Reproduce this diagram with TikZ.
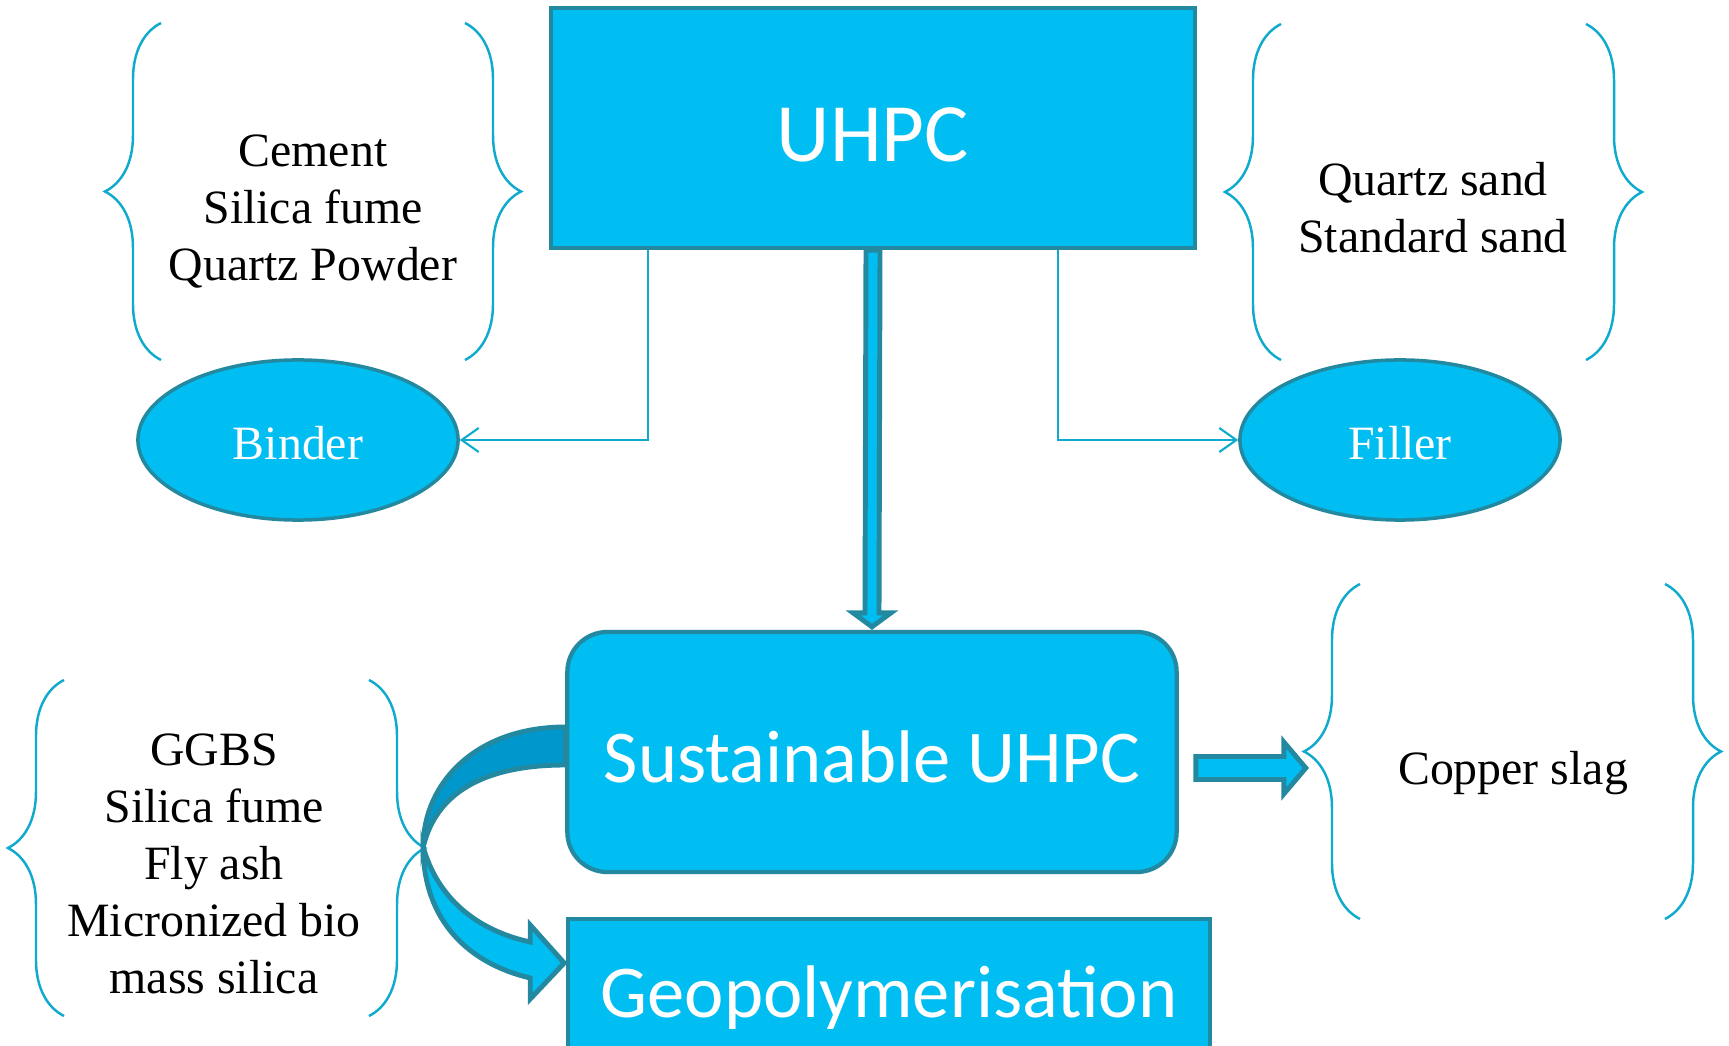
\documentclass[tikz,border=0pt]{standalone}
\usepackage{fontspec}
\setmainfont{Liberation Serif}
\newfontfamily\calibri{Carlito}
\usetikzlibrary{shapes.geometric,arrows.meta,decorations.pathreplacing}

\definecolor{boxfill}{RGB}{0,190,242}
\definecolor{boxline}{RGB}{35,137,160}
\definecolor{thinline}{RGB}{16,170,205}
\definecolor{backband}{RGB}{0,152,204}

% text a little below the middle of its box
\newcommand{\shiftdown}[2]{\vphantom{#2}\raisebox{-#1}[0pt][0pt]{#2}}

\begin{document}
\begin{tikzpicture}[x=0.01cm, y=-0.01cm,
    bigbox/.style={draw=boxline, fill=boxfill, line width=1.2pt, text=white, inner sep=0pt,
        font=\calibri\fontsize{21.2}{25}\selectfont},
    oval/.style={ellipse, draw=boxline, fill=boxfill, line width=1pt, text=white, inner sep=0pt,
        minimum width=3.2cm, minimum height=1.6cm, font=\fontsize{13.6}{16.2}\selectfont},
    listtext/.style={align=center, font=\fontsize{13.6}{16.2}\selectfont},
    curly/.style={decorate, decoration={brace, amplitude=0.56cm}, draw=thinline, line width=0.7pt},
    feed/.style={draw=thinline, line width=0.6pt, -{Straight Barb[length=1.7mm, width=2.4mm]}},
    blockarrow/.style={draw=boxline, fill=boxfill, line width=1.4pt, line join=miter}
]
\useasboundingbox (0,0) rectangle (1729,1046);
\clip (0,0) rectangle (1729,1046);

% main boxes
\node[bigbox, minimum width=6.43cm, minimum height=2.4cm,
      font=\calibri\fontsize{23.6}{28}\selectfont] (uhpc) at (873,128) {\shiftdown{0.07cm}{UHPC}};
\node[bigbox, rounded corners=0.4cm, minimum width=6.09cm, minimum height=2.4cm] (sust) at (872,752)
      {\shiftdown{0.045cm}{Sustainable UHPC}};

\node[oval] (binder) at (298,440) {\shiftdown{0.03cm}{Binder}};
\node[oval] (filler) at (1400,440) {\shiftdown{0.03cm}{Filler}};

% ingredient lists
\node[listtext] (binders) at (313,212) {Cement\\Silica fume\\Quartz Powder};
\node[listtext] (fillers) at (1433,208) {Quartz sand\\Standard sand};
\node[listtext] (greens) at (214,864) {GGBS\\Silica fume\\Fly ash\\Micronized bio\\mass silica};
\node[listtext] (copper) at (1513,773) {Copper slag};

\foreach \xa/\xb/\ya/\yb in {161/465/23/360, 1281/1586/24/360, 64/369/680/1016, 1360/1665/584/919} {
    \draw[curly] (\xa,\yb) -- (\xa,\ya);
    \draw[curly] (\xb,\ya) -- (\xb,\yb);
}

\draw[feed] ([xshift=0.99cm]uhpc.south west) |- (binder.east);
\draw[feed] ([xshift=-1.39cm]uhpc.south east) |- (filler.west);

% UHPC -> Sustainable UHPC
\draw[blockarrow] ([xshift=-0.07cm]uhpc.south) -- ([xshift=-0.07cm,yshift=0.17cm]sust.north)
    -- ([xshift=-0.19cm,yshift=0.17cm]sust.north) -- ([yshift=0.03cm]sust.north)
    -- ([xshift=0.19cm,yshift=0.17cm]sust.north) -- ([xshift=0.07cm,yshift=0.17cm]sust.north)
    -- ([xshift=0.07cm]uhpc.south) -- cycle;

% Sustainable UHPC -> copper slag
\begin{scope}[shift={(sust.east)}]
    \draw[blockarrow] (17,4.5) -- (105,4.5) -- (105,-10) -- (127,16) -- (105,42) -- (105,27.5) -- (17,27.5) -- cycle;
\end{scope}

% Sustainable UHPC -> Geopolymerisation (curved ribbon)
\begin{scope}[shift={(sust.west)}]
    \draw[blockarrow, fill=backband] (0,-25) .. controls (-88,-25) and (-142,30) .. (-142,95)
        .. controls (-129,40) and (-80,13) .. (0,13) -- cycle;
    \draw[blockarrow] (-142,95) .. controls (-142,170) and (-95,212) .. (-35,226)
        -- (-35,247) -- (-1,211) -- (-35,173) -- (-35,190)
        .. controls (-90,178) and (-128,145) .. (-142,95) -- cycle;
\end{scope}

\node[bigbox, minimum width=6.42cm, minimum height=1.46cm] (geo) at (889,992) {\shiftdown{0.055cm}{Geopolymerisation}};
\end{tikzpicture}
\end{document}
